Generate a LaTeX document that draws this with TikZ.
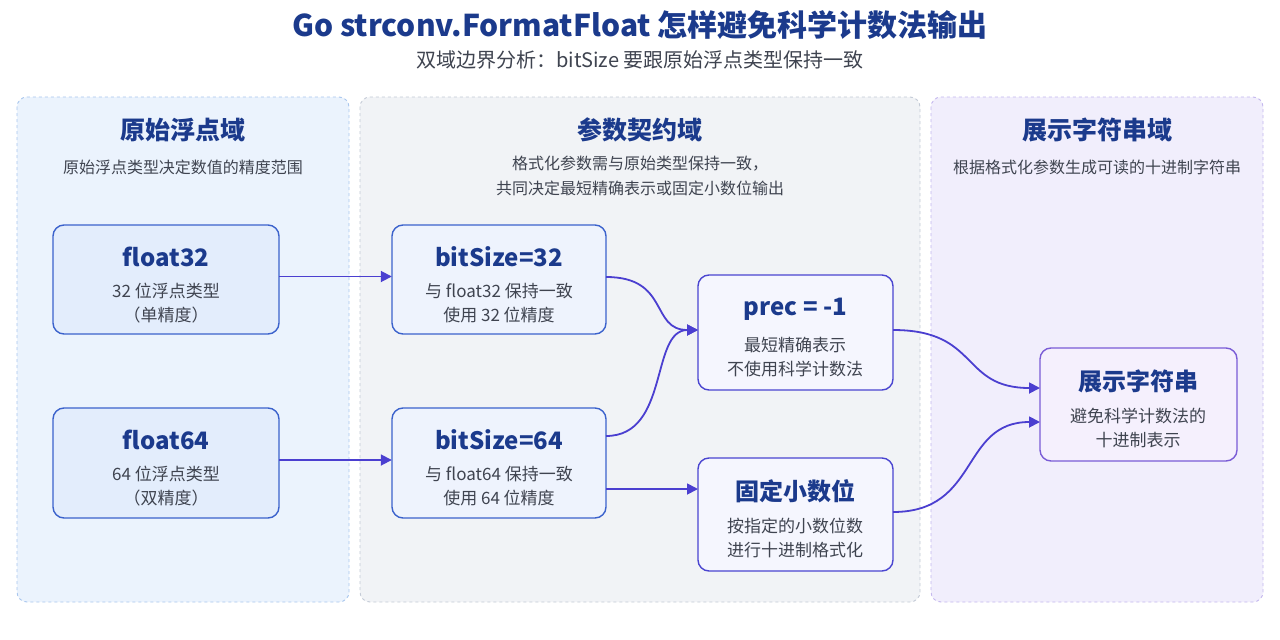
\documentclass[tikz,border=0pt]{standalone}
\usepackage{fontspec}
\setmainfont{Noto Sans CJK SC}
\usetikzlibrary{arrows.meta}
\definecolor{ttl}{HTML}{1B3A8C}
\definecolor{sub}{HTML}{3F4450}
\definecolor{arr}{HTML}{4B3FD0}
\definecolor{p1f}{HTML}{EBF3FD}\definecolor{p1d}{HTML}{A8C6EE}
\definecolor{p2f}{HTML}{F1F3F6}\definecolor{p2d}{HTML}{C3CAD6}
\definecolor{p3f}{HTML}{F1EEFC}\definecolor{p3d}{HTML}{C3B6EE}
\definecolor{bbd}{HTML}{3B62CC}\definecolor{bbf}{HTML}{E3EDFC}\definecolor{bmf}{HTML}{EEF3FD}
\definecolor{pbd}{HTML}{4A45D0}\definecolor{pbf}{HTML}{F5F6FE}
\definecolor{vbd}{HTML}{7A5CD6}\definecolor{vbf}{HTML}{F5F0FD}
\begin{document}
\begin{tikzpicture}[x=1pt,y=-1pt,
 panel/.style={draw, dashed, line width=0.9pt, rounded corners=10pt},
 ptitle/.style={font=\fontsize{25}{30}\selectfont\bfseries, text=ttl},
 psub/.style={font=\fontsize{16}{25}\selectfont, text=sub, align=center},
 box/.style={draw=#1, line width=1.4pt, rounded corners=11pt, align=center, text=sub},
 bt/.style={font=\fontsize{24}{28}\selectfont\bfseries, text=ttl},
 bb/.style={font=\fontsize{17}{24}\selectfont, text=sub, align=center},
 con/.style={draw=arr, line width=1.8pt, -{Triangle[length=11pt,width=11pt]}}]
\useasboundingbox (0,0) rectangle (1280,640);
\fill[white] (0,0) rectangle (1280,640);
\node[font=\fontsize{30}{34}\selectfont\bfseries, text=ttl] (title) at (640,25) {Go strconv.FormatFloat 怎样避免科学计数法输出};
\node[font=\fontsize{20}{24}\selectfont, text=sub] (subtitle) at (640,60) {双域边界分析：bitSize 要跟原始浮点类型保持一致};
% panels
\path[panel, draw=p1d, fill=p1f] (17,97) rectangle (349,602);
\path[panel, draw=p2d, fill=p2f] (360,97) rectangle (920,602);
\path[panel, draw=p3d, fill=p3f] (931,97) rectangle (1263,602);
\node[ptitle] (p1) at (183,130) {原始浮点域};
\node[psub] (p1s) at (183,167) {原始浮点类型决定数值的精度范围};
\node[ptitle] (p2) at (640,130) {参数契约域};
\node[psub] (p2s) at (640,176) {格式化参数需与原始类型保持一致，\\共同决定最短精确表示或固定小数位输出};
\node[ptitle] (p3) at (1097,130) {展示字符串域};
\node[psub] (p3s) at (1097,167) {根据格式化参数生成可读的十进制字符串};
% boxes
\newcommand\mybox[8]{%
 \path[box=#6, fill=#7] (#2,#3) rectangle (#4,#5);
 \node[inner sep=0pt, minimum width=#4pt-#2pt, minimum height=#5pt-#3pt] (#1) at ({(#2+#4)/2},{(#3+#5)/2}) {};
 \node[bt] (#1t) at ({(#2+#4)/2},{(#3+#5)/2-23}) {#8};}
\mybox{f32}{53}{225}{279}{334}{bbd}{bbf}{float32}
\node[bb] (f32b) at (166,303) {32 位浮点类型\\（单精度）};
\mybox{f64}{53}{408}{279}{518}{bbd}{bbf}{float64}
\node[bb] (f64b) at (166,486) {64 位浮点类型\\（双精度）};
\mybox{b32}{392}{225}{606}{334}{bbd}{bmf}{bitSize=32}
\node[bb] (b32b) at (499,303) {与 float32 保持一致\\使用 32 位精度};
\mybox{b64}{392}{408}{606}{518}{bbd}{bmf}{bitSize=64}
\node[bb] (b64b) at (499,486) {与 float64 保持一致\\使用 64 位精度};
\mybox{prec}{698}{275}{893}{390}{pbd}{pbf}{prec = -1}
\node[bb] (precb) at (795,357) {最短精确表示\\不使用科学计数法};
\mybox{fix}{698}{458}{893}{571}{pbd}{pbf}{固定小数位}
\node[bb] (fixb) at (795,538) {按指定的小数位数\\进行十进制格式化};
\mybox{out}{1040}{348}{1237}{461}{vbd}{vbf}{展示字符串}
\node[bb] (outb) at (1138,428) {避免科学计数法的\\十进制表示};
% connectors
\draw[con] (f32.east) ++(0,-3) coordinate (s1) (s1) -- (b32.west |- s1);
\draw[con] (f64.east) ++(0,-3) coordinate (s2) (s2) -- (b64.west |- s2);
\draw[con] (606,277) .. controls (670,277) and (650,330) .. (698,330);
\draw[con] (606,436) .. controls (670,436) and (650,330) .. (698,330);
\draw[con] (606,489) -- (698,489);
\draw[con] (893,330) .. controls (980,330) and (960,388) .. (1040,388);
\draw[con] (893,512) .. controls (980,512) and (960,422) .. (1040,422);
\end{tikzpicture}
\end{document}
